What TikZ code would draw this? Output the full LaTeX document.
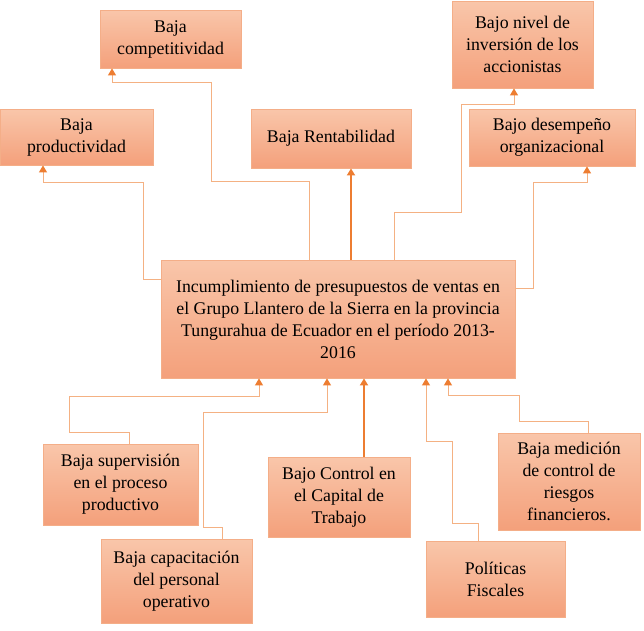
\documentclass[tikz,border=0pt]{standalone}
\usepackage{fontspec}
\setmainfont{Liberation Serif}
\usepackage{xcolor}
\usepackage{tikz}
\usetikzlibrary{arrows.meta}

\definecolor{boxtop}{HTML}{F9C6AA}
\definecolor{boxbot}{HTML}{F4A07B}
\definecolor{boxline}{HTML}{F4AE88}
\definecolor{linklight}{HTML}{F4B183}
\definecolor{linkdark}{HTML}{ED7D31}

\tikzset{
  cbox/.style={draw=boxline, line width=0.8pt, top color=boxtop, bottom color=boxbot,
    align=center, inner sep=0pt, font=\fontsize{17.8}{22}\selectfont},
  link/.style={draw=linklight, line width=1pt, -{Triangle[width=8pt,length=7pt,color=linkdark]}},
  mainlink/.style={draw=linkdark, line width=2pt, -{Triangle[width=8pt,length=7pt]}},
}

\begin{document}
\begin{tikzpicture}[x=1pt,y=-1pt]
\useasboundingbox (0,0) rectangle (644,630);
% Central problem
\node[cbox, minimum width=354pt, minimum height=118pt] (central) at (338,319)
  {Incumplimiento de presupuestos de ventas en\\el Grupo Llantero de la Sierra en la provincia\\Tungurahua de Ecuador en el período 2013-\\2016};
% Effects (top)
\node[cbox, minimum width=141pt, minimum height=58pt] (comp) at (170.5,39) {Baja\\competitividad};
\node[cbox, minimum width=153pt, minimum height=56pt] (prod) at (76.5,137) {Baja\\productividad};
\node[cbox, minimum width=160pt, minimum height=59pt] (rent) at (331,138.5) {Baja Rentabilidad};
\node[cbox, minimum width=141pt, minimum height=87pt] (inv) at (522.5,44.5) {Bajo nivel de\\inversión de los\\accionistas};
\node[cbox, minimum width=166pt, minimum height=57pt] (desem) at (552,137.5) {Bajo desempeño\\organizacional};
% Causes (bottom)
\node[cbox, minimum width=155pt, minimum height=81pt] (superv) at (120.5,484.5) {Baja supervisión\\en el proceso\\productivo};
\node[cbox, minimum width=151pt, minimum height=84pt] (capac) at (176.5,581) {Baja capacitación\\del personal\\operativo};
\node[cbox, minimum width=142pt, minimum height=80pt] (ctrl) at (339,497) {Bajo Control en\\el Capital de\\Trabajo};
\node[cbox, minimum width=142pt, minimum height=97pt] (medic) at (569,481.5) {Baja medición\\de control de\\riesgos\\financieros.};
\node[cbox, minimum width=139pt, minimum height=76pt] (polit) at (495.5,579) {Políticas\\Fiscales};
% Links to effects
\draw[link] (central.north -| 309,0) |- (211,181) |- (112,82) -- (comp.south -| 112,0);
\draw[link] (central.west |- 0,279) -| (143,182) -| (prod.south -| 43,0);
\draw[mainlink] (central.north -| 351,0) -- (rent.south -| 351,0);
\draw[link] (central.north -| 394,0) |- (461,212) |- (514,104) -- (inv.south -| 514,0);
\draw[link] (central.east |- 0,288) -| (533,182) -| (desem.south -| 587,0);
% Links from causes
\draw[link] (superv.north -| 129,0) |- (69,432) |- (259,396) -- (central.south -| 259,0);
\draw[link] (capac.north -| 222,0) |- (203,527) |- (327,412) -- (central.south -| 327,0);
\draw[mainlink] (ctrl.north -| 364,0) -- (central.south -| 364,0);
\draw[link] (polit.north -| 478,0) |- (452,523) |- (426,441) -- (central.south -| 426,0);
\draw[link] (medic.north -| 588,0) |- (519,421) |- (448,395) -- (central.south -| 448,0);
\end{tikzpicture}
\end{document}
